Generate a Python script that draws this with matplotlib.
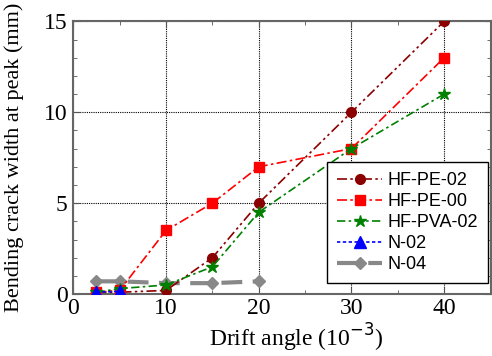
import matplotlib
matplotlib.use("Agg")
import matplotlib.pyplot as plt
from matplotlib.ticker import MultipleLocator

drift = [2.5, 5, 10, 15, 20, 30, 40]
hf_pe_02 = [0.1, 0.1, 0.2, 2, 5, 10, 15]
hf_pe_00 = [0.1, 0.2, 3.5, 5, 7, 8, 13]
hf_pva_02 = [0.1, 0.3, 0.5, 1.5, 4.5, 8, 11]
drift_n02 = [2.5, 5]
n_02 = [0.1, 0.15]
drift_n04 = [2.5, 5, 10, 15, 20]
n_04 = [0.7, 0.7, 0.6, 0.6, 0.7]

plt.rcParams['font.family'] = ['Liberation Serif', 'DejaVu Serif']

fig = plt.figure(figsize=(4.92, 3.56), dpi=100)
ax = fig.add_axes([0.149, 0.174, 0.848, 0.766])

ax.plot(drift, hf_pe_02, color='#8b0000', marker='o', ms=7, lw=1.2,
        dashes=(6, 2, 1.5, 2, 1.5, 2), label='HF-PE-02', zorder=3)
ax.plot(drift, hf_pe_00, color='#ff0000', marker='s', ms=7, lw=1.2,
        dashes=(6, 2, 1.5, 2), label='HF-PE-00', zorder=3)
ax.plot(drift, hf_pva_02, color='#008000', marker='*', ms=9, lw=1.2,
        dashes=(5, 2, 1.5, 2), label='HF-PVA-02', zorder=3)
ax.plot(drift_n02, n_02, color='#0000ff', marker='^', ms=8, lw=1.2,
        dashes=(2, 1.5), label='N-02', zorder=4)
ax.plot(drift_n04, n_04, color='#888888', marker='D', ms=6, lw=3,
        dashes=(5, 2.5), label='N-04', zorder=2)

ax.set_xlim(0, 45)
ax.set_ylim(0, 15)
ax.xaxis.set_major_locator(MultipleLocator(10))
ax.xaxis.set_minor_locator(MultipleLocator(5))
ax.yaxis.set_major_locator(MultipleLocator(5))
ax.yaxis.set_minor_locator(MultipleLocator(1))
ax.tick_params(which='both', direction='in', top=True, right=True,
               labelsize=17, color='#555555')
ax.tick_params(which='major', length=5)
ax.tick_params(which='minor', length=3)
ax.tick_params(axis='x', which='major', pad=3)
ax.tick_params(axis='y', which='major', pad=4)
ax.grid(True, which='major', color='black', lw=0.8, ls=(0, (1, 1)))
for s in ax.spines.values():
    s.set_color('#666666')
    s.set_linewidth(1.5)

ax.set_xlabel('Drift angle (10$^{-3}$)', fontsize=17)
ax.set_ylabel('Bending crack width at peak (mm)', fontsize=16)
ax.xaxis.set_label_coords(0.534, -0.1)
ax.yaxis.set_label_coords(-0.118, 0.5)

leg = ax.legend(loc='upper right', bbox_to_anchor=(0.994, 0.484),
                borderaxespad=0,
                prop={'family': 'Liberation Sans', 'size': 13},
                fancybox=False, edgecolor='black', framealpha=1,
                handlelength=2.5, handletextpad=0.3, borderpad=0.55,
                labelspacing=0.22)
leg.get_frame().set_linewidth(1.0)

fig.savefig('out.png', dpi=100)
